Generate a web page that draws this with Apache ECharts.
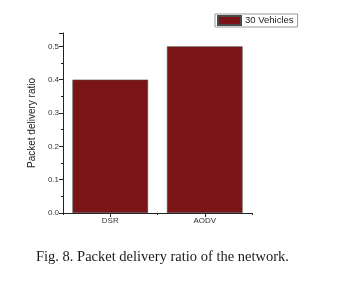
<!DOCTYPE html>
<html><head><meta charset="utf-8">
<script src="https://cdn.jsdelivr.net/npm/echarts@6/dist/echarts.min.js"></script>
<style>html,body{margin:0;padding:0;background:#fff}#c{width:342px;height:286px}</style>
</head><body><div id="c"></div>
<script>
const categories = ['DSR', 'AODV'];
const seriesName = '30 Vehicles';
const values = [0.40, 0.50];
const yTicks = [0, 0.1, 0.2, 0.3, 0.4, 0.5];
const caption = 'Fig. 8. Packet delivery ratio of the network.';
const yLabel = 'Packet delivery ratio';

const chart = echarts.init(document.getElementById('c'), null, {renderer: 'canvas'});
const axisColor = '#222';
chart.setOption({
  animation: false,
  backgroundColor: '#fff',
  title: {
    text: caption, left: 31, top: 245,
    textStyle: {fontFamily: 'Liberation Serif', fontSize: 14.5, fontWeight: 'normal', color: '#1a1a1a'}
  },
  legend: {
    data: [seriesName], left: 215, top: 14,
    orient: 'horizontal',
    itemWidth: 23, itemHeight: 9, itemGap: 3,
    padding: [1, 4, 1, 2],
    borderColor: '#999', borderWidth: 1, borderRadius: 0,
    icon: 'rect',
    textStyle: {fontFamily: 'Liberation Sans', fontSize: 9.5, color: '#222', padding: [0, 0, 0, -1]}
  },
  grid: {left: 63, right: 90, top: 33, bottom: 73, containLabel: false},
  xAxis: [{
    type: 'category', data: categories,
    axisLine: {lineStyle: {color: axisColor, width: 1}},
    axisTick: {show: true, alignWithLabel: true, length: 4, lineStyle: {color: axisColor}},
    axisLabel: {fontFamily: 'Liberation Sans', fontSize: 8, color: '#333', margin: 4}
  }, {
    type: 'value', min: 0, max: categories.length, interval: 1,
    position: 'bottom',
    axisLine: {show: false},
    axisTick: {show: true, length: 2, inside: false, lineStyle: {color: axisColor}},
    axisLabel: {show: false}, splitLine: {show: false}
  }],
  yAxis: {
    type: 'value', min: 0, max: 0.54, interval: 0.1,
    name: yLabel, nameLocation: 'middle', nameGap: 24, nameRotate: 90,
    nameTextStyle: {fontFamily: 'Liberation Sans', fontSize: 10, color: '#222'},
    axisLine: {show: true, lineStyle: {color: axisColor, width: 1}},
    axisTick: {show: true, length: 4, lineStyle: {color: axisColor}},
    minorTick: {show: true, splitNumber: 2, length: 2, lineStyle: {color: axisColor}},
    splitLine: {show: false},
    axisLabel: {
      fontFamily: 'Liberation Sans', fontSize: 8, color: '#333', margin: 4,
      formatter: v => yTicks.some(t => Math.abs(t - v) < 1e-9) ? v.toFixed(1) : ''
    }
  },
  series: [{
    name: seriesName, type: 'bar', data: values, barWidth: '80%',
    itemStyle: {color: '#7b1417', borderColor: '#4a4a4a', borderWidth: 0.6}
  }]
});
</script></body></html>
